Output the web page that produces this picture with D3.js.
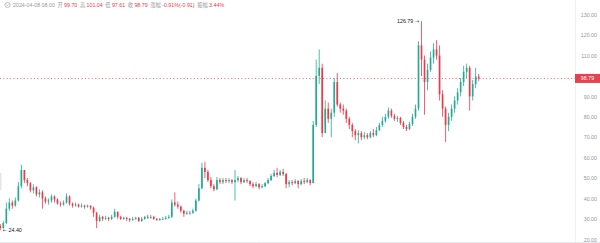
<!DOCTYPE html>
<html>
<head>
<meta charset="utf-8">
<script src="https://cdn.jsdelivr.net/npm/d3@7"></script>
<style>
  html, body { margin: 0; padding: 0; background: #fff; }
  svg { display: block; font-family: "Liberation Sans", "Noto Sans CJK SC", sans-serif; }
</style>
</head>
<body>
<svg id="chart" width="600" height="243"></svg>
<script>
// OHLC, one candle per slot, oldest first.
// open = previous close (24h market), first open given separately.
const firstOpen = 26.5;
const closes = [
  25.5, 28, 35, 38, 36.5, 39, 46, 54, 49, 47.5,
  44, 45.5, 42, 43, 40, 38.5, 39, 41, 39.5, 37.5,
  37, 38, 41, 37.5, 36.5, 37, 36, 36.5, 36, 36.5,
  35.5, 33, 29, 31, 30, 30.5, 30, 31, 33.5, 31,
  30, 30.5, 30, 29.5, 30, 30.5, 29, 30, 31, 30.5,
  31, 30, 29.5, 30, 30, 30.5, 31, 38, 37, 36,
  34, 32.5, 33, 33, 34, 39, 45, 55, 53, 49,
  46, 44.5, 49, 48, 49, 48.5, 49, 48, 49, 50,
  48, 49, 48.5, 47, 46, 47, 45.5, 46, 47.5, 49,
  51, 52.5, 51.5, 53, 52, 47, 48, 47.5, 48.5, 47,
  48.5, 48, 49, 47.5, 76, 100, 104, 72, 84, 79,
  82, 97, 86, 84, 83, 79, 76, 73, 71, 72,
  70, 71, 70, 72, 71, 73.5, 76, 78, 80, 83,
  80.5, 79, 79.5, 77, 75, 74, 76.5, 80, 84, 115,
  108, 97, 103, 109, 113, 110, 91, 84, 76, 80,
  84, 88, 92, 97, 102, 104, 90, 96, 99.7, 98.79
];
const highs = [
  27.5, 29, 38, 40, 39, 40.5, 48, 56.5, 53, 50,
  48, 47, 46, 44.5, 44, 41, 40, 42, 41.5, 40,
  38.5, 39, 42.5, 41.5, 38, 38, 37.5, 37.5, 37, 37,
  36.5, 36, 33.5, 32, 31.5, 31.5, 31, 32, 35, 33.5,
  31.5, 31, 31, 30.5, 31, 31, 31, 31, 31.5, 32,
  32, 31.5, 30.5, 30.5, 31, 31.5, 32, 39.5, 43, 38.5,
  36.5, 34.5, 34, 34, 35, 40, 47, 57.5, 58, 54,
  50.5, 47, 50.5, 50, 50, 50, 50, 49.5, 54, 51,
  50.5, 50, 50, 49, 48, 48, 47.5, 47, 48, 50,
  52, 54, 55, 54, 54.5, 52.5, 49, 49, 49.5, 49,
  49.5, 50, 50, 49.5, 78, 108, 113, 106, 88, 87,
  84, 99, 101.5, 87, 86, 84, 80, 77, 74, 73.5,
  73, 72.5, 72, 73, 74, 75, 77, 80, 81.5, 84.5,
  84, 81.5, 80.5, 80, 78, 76, 77.5, 81.5, 86, 117,
  126.79, 110, 106, 112, 116, 117.5, 115, 93, 85, 82,
  86, 90, 94, 99, 105, 106, 105, 98, 104, 101.04
];
const lows = [
  24.4, 25.2, 27.5, 34, 35, 36, 38.5, 45, 47.5, 46,
  43, 42.5, 41, 40.5, 35, 37.5, 37, 38, 38, 37,
  36, 36.5, 37.5, 36.5, 35.5, 36, 35.5, 35.5, 35, 35.5,
  34.5, 31, 25.5, 28.5, 29, 29.5, 29, 29.5, 30.5, 30,
  29.5, 29.5, 29, 28.5, 29, 29.5, 28.5, 28.5, 29.5, 30,
  30, 29.5, 29, 29, 29.5, 29.5, 30, 30.5, 36, 35,
  33, 31, 32, 32, 32.5, 33.5, 38.5, 44.5, 50, 48,
  45, 43.5, 44, 47, 47, 47.5, 47.5, 47, 39, 48,
  47, 47.5, 47.5, 46, 45, 45.5, 44.5, 45, 45.5, 47,
  48.5, 50.5, 50.5, 51, 51, 45, 45.5, 46.5, 47, 45,
  46.5, 47, 47.5, 46.5, 47.5, 75, 96, 70, 76, 77,
  70, 80, 85, 82, 81, 77, 74, 70, 68.5, 67,
  68.5, 69, 69, 69.5, 70, 70.5, 73, 75, 77, 79,
  79.5, 78, 77.5, 76, 74, 73, 73.5, 75.5, 79, 83,
  100, 81, 93, 102, 106, 108, 88, 80, 67.6, 73,
  78, 82, 86, 90, 95, 99, 83, 88, 94, 97.61
];
const opens = closes.map((c, i) => (i === 0 ? firstOpen : closes[i - 1]));

const priceTicks = [20, 30, 40, 50, 60, 70, 80, 90, 100, 110, 120, 130];
const lastPrice = 98.79;
const maxLabel = '126.79';
const minLabel = '24.40';

const headerTime = '2024-04-08 08:00';
const headerItems = [
  ['开', '99.70'], ['高', '101.04'], ['低', '97.61'], ['收', '98.79'],
  ['涨幅', '-0.91%(-0.91)'], ['振幅', '3.44%']
];

const UP = '#22ab94';
const DOWN = '#f23645';
const GREY = '#9598a1';
const FS = 5.3;

const svg = d3.select('#chart');
const width = 600, height = 243;
const axisX = 575;

const x = d3.scaleBand()
  .domain(d3.range(closes.length))
  .range([-0.5, 479.5])
  .paddingInner(0.45);

const y = d3.scaleLinear()
  .domain([20, 130])
  .range([239.3, 14.7]);

// frame bits
svg.append('line')
  .attr('x1', axisX + 0.5).attr('x2', axisX + 0.5)
  .attr('y1', 0).attr('y2', height)
  .attr('stroke', '#eef0f3');
svg.append('line')
  .attr('x1', 0).attr('x2', width)
  .attr('y1', 242.5).attr('y2', 242.5)
  .attr('stroke', '#e6e8ec');
svg.append('rect')
  .attr('x', 0).attr('y', 173).attr('width', 1.5).attr('height', 17)
  .attr('fill', '#e3e5e8');

// candles
const candles = svg.append('g').selectAll('g')
  .data(closes.map((c, i) => ({ i, o: opens[i], h: highs[i], l: lows[i], c })))
  .join('g')
  .attr('fill', d => d.c >= d.o ? UP : DOWN)
  .attr('stroke', d => d.c >= d.o ? UP : DOWN);

candles.append('line')
  .attr('x1', d => x(d.i) + x.bandwidth() / 2)
  .attr('x2', d => x(d.i) + x.bandwidth() / 2)
  .attr('y1', d => y(d.h))
  .attr('y2', d => y(d.l))
  .attr('stroke-width', 0.8);

candles.append('rect')
  .attr('x', d => x(d.i))
  .attr('width', x.bandwidth())
  .attr('y', d => y(Math.max(d.o, d.c)))
  .attr('height', d => Math.max(0.8, Math.abs(y(d.o) - y(d.c))))
  .attr('stroke', 'none');

// extreme labels (arrow glyph from DejaVu, Liberation lacks it)
const hiIdx = d3.maxIndex(highs);
const loIdx = d3.minIndex(lows);
const hiText = svg.append('text')
  .attr('x', x(hiIdx) - 1.5)
  .attr('y', y(highs[hiIdx]) + 1.8)
  .attr('text-anchor', 'end')
  .attr('font-size', FS)
  .attr('fill', '#131722');
hiText.append('tspan').text(maxLabel + ' ');
hiText.append('tspan').attr('font-family', '"DejaVu Sans"').text('→');

const loText = svg.append('text')
  .attr('x', x(loIdx) + x.bandwidth() + 1.5)
  .attr('y', y(lows[loIdx]) + 1.8)
  .attr('font-size', FS)
  .attr('fill', '#131722');
loText.append('tspan').attr('font-family', '"DejaVu Sans"').text('←');
loText.append('tspan').text(' ' + minLabel);

// last price line
svg.append('line')
  .attr('x1', 0).attr('x2', axisX)
  .attr('y1', y(lastPrice)).attr('y2', y(lastPrice))
  .attr('stroke', DOWN)
  .attr('stroke-width', 0.8)
  .attr('stroke-dasharray', '1,2.4');

// price axis; the tag covers any tick too close to the last price
const axis = svg.append('g')
  .attr('transform', `translate(${width - 3},0)`)
  .call(d3.axisLeft(y).tickValues(priceTicks).tickFormat(d3.format('.2f')).tickSize(0).tickPadding(0));
axis.select('.domain').remove();
axis.selectAll('.tick')
  .filter(d => Math.abs(y(d) - y(lastPrice)) < 8)
  .remove();
axis.selectAll('text')
  .attr('font-size', FS)
  .attr('fill', GREY)
  .attr('font-family', '"Liberation Sans", sans-serif');

// last price tag
const tag = svg.append('g').attr('transform', `translate(${axisX},${y(lastPrice)})`);
tag.append('rect')
  .attr('x', 0).attr('y', -4.5).attr('width', 25).attr('height', 9)
  .attr('fill', '#e8404f');
tag.append('text')
  .attr('x', 12.5).attr('y', 1.9)
  .attr('text-anchor', 'middle')
  .attr('font-size', FS)
  .attr('fill', '#fff')
  .text(lastPrice.toFixed(2));

// header legend
const head = svg.append('g');
head.append('circle')
  .attr('cx', 7.5).attr('cy', 5).attr('r', 2.6)
  .attr('fill', 'none').attr('stroke', GREY).attr('stroke-width', 0.6);
head.append('path')
  .attr('d', 'M6.3,4.4 L7.5,5.6 L8.7,4.4')
  .attr('fill', 'none').attr('stroke', GREY).attr('stroke-width', 0.6);

const htext = head.append('text')
  .attr('x', 13).attr('y', 7)
  .attr('font-size', FS)
  .attr('fill', GREY);
htext.append('tspan').text(headerTime);
headerItems.forEach(([k, v]) => {
  htext.append('tspan').attr('dx', 2.6).attr('fill', GREY).text(k);
  htext.append('tspan').attr('dx', 1.3).attr('fill', DOWN).text(v);
});
</script>
</body>
</html>
